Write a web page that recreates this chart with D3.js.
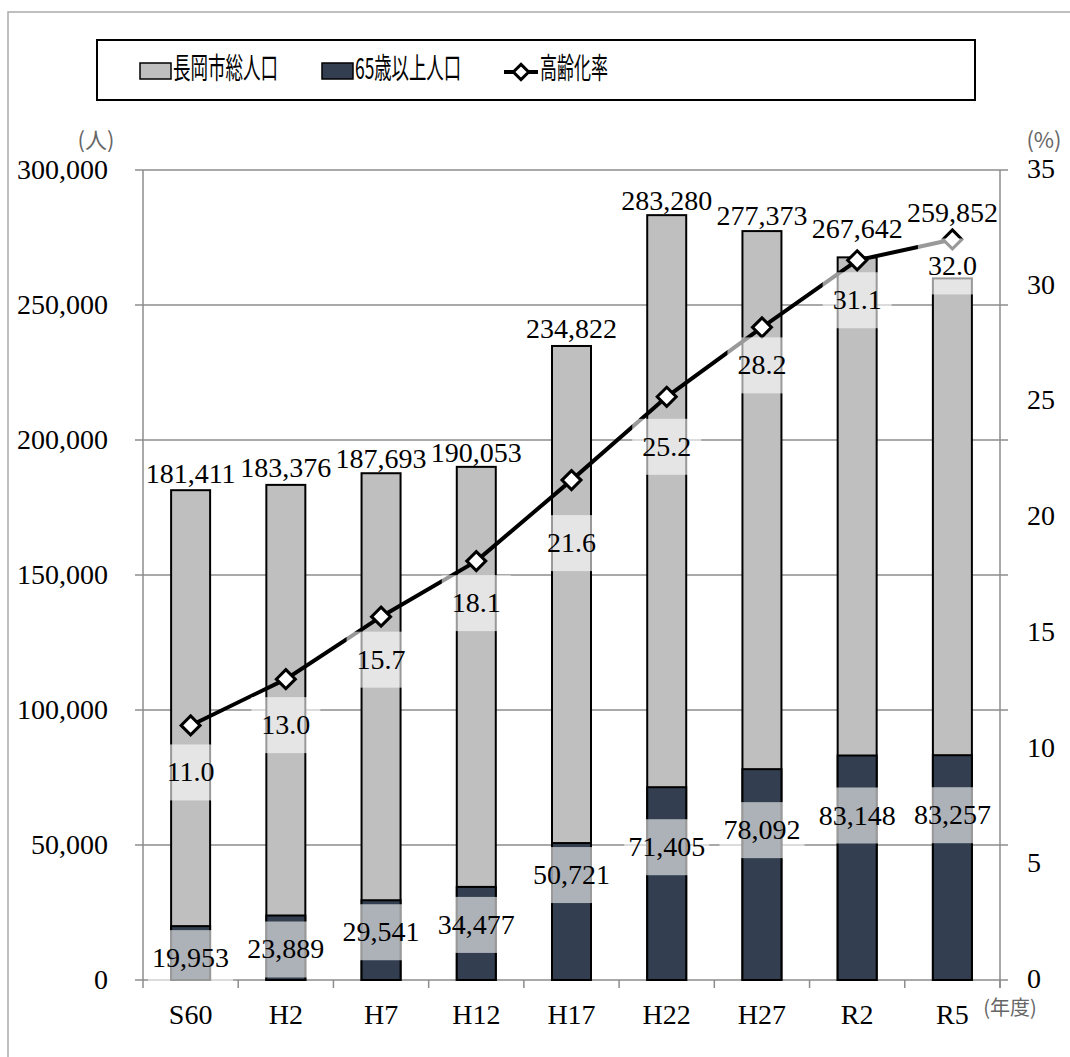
<!DOCTYPE html>
<html><head><meta charset="utf-8">
<script src="https://d3js.org/d3.v7.min.js"></script>
<style>
  body { margin: 0; background: #fff; }
  text { font-family: "Liberation Serif", serif; }
  .jp { font-family: "Noto Sans CJK JP", sans-serif; }
</style>
</head><body>
<svg width="1070" height="1057"></svg>
<script>
// data
var years = ['S60', 'H2', 'H7', 'H12', 'H17', 'H22', 'H27', 'R2', 'R5'];
var total = [181411, 183376, 187693, 190053, 234822, 283280, 277373, 267642, 259852];
var elderly = [19953, 23889, 29541, 34477, 50721, 71405, 78092, 83148, 83257];
var rate = [11.0, 13.0, 15.7, 18.1, 21.6, 25.2, 28.2, 31.1, 32.0];
var popTicks = [0, 50000, 100000, 150000, 200000, 250000, 300000];
var rateTicks = [0, 5, 10, 15, 20, 25, 30, 35];

// label nudges in px (as placed in the original)
var totalDy = [-7, -8, -5, -5, -8, -5, -6, -19, -56];
var elderlyDy = [32, 34, 32, 38, 32, 60, 61, 60, 60];
var rateDy = [47, 46, 43, 42, 63, 50, 38, 40, 27];

var svg = d3.select('svg');
var L = 143, R = 1000, T = 170, B = 980;

var x = d3.scaleBand().domain(years).range([L, R]);
var y = d3.scaleLinear().domain([0, 300000]).range([B, T]);
var y2 = d3.scaleLinear().domain([0, 35]).range([B, T]);
var barW = 39;
var grid = '#8c8c8c';

// outer frame
svg.append('rect').attr('x', 8).attr('y', 12).attr('width', 1100).attr('height', 1100)
  .attr('fill', 'none').attr('stroke', '#aaa').attr('stroke-width', 1.5);

// gridlines
svg.append('g').selectAll('line').data(popTicks).enter().append('line')
  .attr('x1', L - 8).attr('x2', R + 8)
  .attr('y1', d => y(d)).attr('y2', d => y(d))
  .attr('stroke', grid).attr('stroke-width', 1.5);

// axis lines
svg.append('line').attr('x1', L).attr('x2', L).attr('y1', T).attr('y2', B)
  .attr('stroke', grid).attr('stroke-width', 1.5);
svg.append('line').attr('x1', R).attr('x2', R).attr('y1', T).attr('y2', B + 8)
  .attr('stroke', grid).attr('stroke-width', 1.5);
svg.append('g').selectAll('line').data(d3.range(years.length + 1)).enter().append('line')
  .attr('x1', i => L + i * x.step()).attr('x2', i => L + i * x.step())
  .attr('y1', B).attr('y2', B + 8)
  .attr('stroke', grid).attr('stroke-width', 1.5);

// left tick labels
svg.append('g').selectAll('text').data(popTicks).enter().append('text')
  .attr('x', 108).attr('y', d => y(d) + 9)
  .attr('text-anchor', 'end').style('font-size', '28px')
  .text(d3.format(','));
// right tick labels
svg.append('g').selectAll('text').data(rateTicks).enter().append('text')
  .attr('x', 1027).attr('y', d => y2(d) + 8)
  .style('font-size', '28px')
  .text(d => d);
// category labels
svg.append('g').selectAll('text').data(years).enter().append('text')
  .attr('x', d => x(d) + x.bandwidth() / 2).attr('y', 1024)
  .attr('text-anchor', 'middle').style('font-size', '28px')
  .text(d => d);

// unit labels
svg.append('text').attr('class', 'jp').attr('x', 96).attr('y', 148)
  .attr('text-anchor', 'middle').style('font-size', '22px').attr('fill', '#666').text('(人)');
svg.append('text').attr('class', 'jp').attr('x', 1044).attr('y', 148)
  .attr('text-anchor', 'middle').style('font-size', '22px').attr('fill', '#666').text('(%)');
svg.append('text').attr('class', 'jp').attr('x', 1010).attr('y', 1015)
  .attr('text-anchor', 'middle').style('font-size', '20px').attr('fill', '#666').text('(年度)');

// bars
var cx = (d, i) => x(years[i]) + x.bandwidth() / 2;
svg.append('g').selectAll('rect').data(total).enter().append('rect')
  .attr('x', (d, i) => cx(d, i) - barW / 2).attr('width', barW)
  .attr('y', d => y(d)).attr('height', d => B - y(d))
  .attr('fill', '#bfbfbf').attr('stroke', '#000').attr('stroke-width', 2);
svg.append('g').selectAll('rect').data(elderly).enter().append('rect')
  .attr('x', (d, i) => cx(d, i) - barW / 2).attr('width', barW)
  .attr('y', d => y(d)).attr('height', d => B - y(d))
  .attr('fill', '#333f50').attr('stroke', '#000').attr('stroke-width', 2);

// rate line
var line = d3.line().x((d, i) => cx(d, i)).y(d => y2(d));
svg.append('path').datum(rate).attr('d', line)
  .attr('fill', 'none').attr('stroke', '#000').attr('stroke-width', 4);
svg.append('g').selectAll('path').data(rate).enter().append('path')
  .attr('d', d3.symbol().type(d3.symbolDiamond2).size(230))
  .attr('transform', (d, i) => 'translate(' + cx(d, i) + ',' + y2(d) + ')')
  .attr('fill', '#fff').attr('stroke', '#000').attr('stroke-width', 3);

// labels with semi-transparent boxes
function boxLabel(g, px, py, txt, pad) {
  var t = g.append('text').attr('x', px).attr('y', py + 9)
    .attr('text-anchor', 'middle').style('font-size', '28px').text(txt);
  var w = t.node().getComputedTextLength() + pad;
  g.insert('rect', 'text').attr('x', px - w / 2).attr('y', py - 28)
    .attr('width', w).attr('height', 56)
    .attr('fill', '#fff').attr('fill-opacity', 0.6);
}
var fmt = d3.format(',');
var lab = svg.append('g');
elderly.forEach(function(d, i) {
  boxLabel(lab.append('g'), cx(d, i), y(d) + elderlyDy[i], fmt(d), 8);
});
rate.forEach(function(d, i) {
  boxLabel(lab.append('g'), cx(d, i), y2(d) + rateDy[i], d.toFixed(1), 20);
});
svg.append('g').selectAll('text').data(total).enter().append('text')
  .attr('x', (d, i) => cx(d, i)).attr('y', (d, i) => y(d) + totalDy[i])
  .attr('text-anchor', 'middle').style('font-size', '28px')
  .text(fmt);

// legend
var lg = svg.append('g');
lg.append('rect').attr('x', 97).attr('y', 40).attr('width', 878).attr('height', 60)
  .attr('fill', '#fff').attr('stroke', '#000').attr('stroke-width', 2);
lg.append('rect').attr('x', 140).attr('y', 63).attr('width', 31).attr('height', 16)
  .attr('fill', '#bfbfbf').attr('stroke', '#000').attr('stroke-width', 1.5);
lg.append('text').attr('class', 'jp').attr('x', 173).attr('y', 79)
  .attr('textLength', 105).attr('lengthAdjust', 'spacingAndGlyphs')
  .style('font-size', '29px').text('長岡市総人口');
lg.append('rect').attr('x', 322).attr('y', 63).attr('width', 31).attr('height', 16)
  .attr('fill', '#333f50').attr('stroke', '#000').attr('stroke-width', 1.5);
lg.append('text').attr('class', 'jp').attr('x', 355).attr('y', 79)
  .attr('textLength', 106).attr('lengthAdjust', 'spacingAndGlyphs')
  .style('font-size', '29px').text('65歳以上人口');
lg.append('line').attr('x1', 504).attr('x2', 538).attr('y1', 72).attr('y2', 72)
  .attr('stroke', '#000').attr('stroke-width', 4);
lg.append('path').attr('d', d3.symbol().type(d3.symbolDiamond2).size(150))
  .attr('transform', 'translate(521,72)')
  .attr('fill', '#fff').attr('stroke', '#000').attr('stroke-width', 3);
lg.append('text').attr('class', 'jp').attr('x', 540).attr('y', 79)
  .attr('textLength', 68).attr('lengthAdjust', 'spacingAndGlyphs')
  .style('font-size', '29px').text('高齢化率');
</script>
</body></html>
